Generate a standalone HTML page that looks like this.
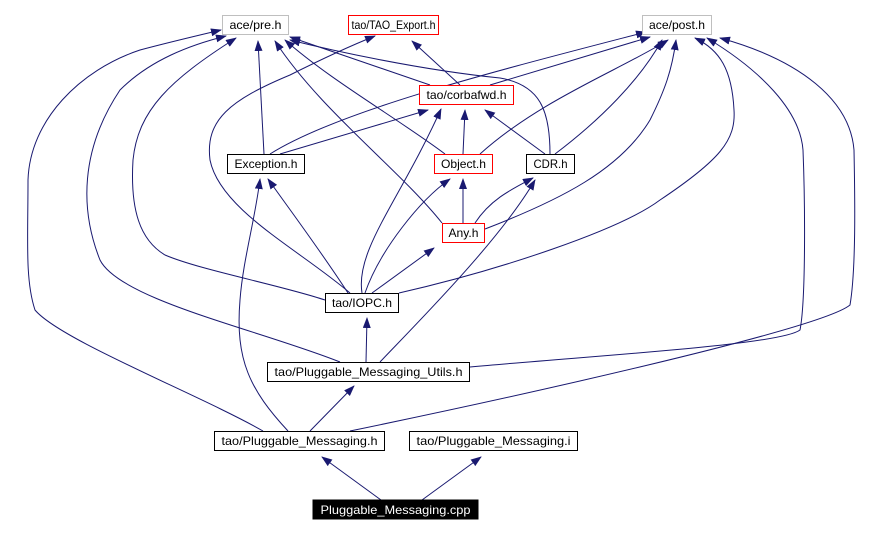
<!DOCTYPE html>
<html><head><meta charset="utf-8"><style>
html,body{margin:0;padding:0;background:#fff;}
svg{display:block;}
text{font-family:"Liberation Sans",Arial,sans-serif;font-size:12px;}
</style></head><body>
<svg width="881" height="534" viewBox="0 0 881 534" xmlns="http://www.w3.org/2000/svg">
<defs>
<marker id="a" markerWidth="11" markerHeight="8" refX="10" refY="4" orient="auto" markerUnits="userSpaceOnUse">
<path d="M0,0 L11,4 L0,8 z" fill="#191970"/></marker>
</defs>
<g fill="none" stroke="#191970" stroke-width="1" marker-end="url(#a)">
<path d="M381,500 L322,457"/>
<path d="M422,500 L481,457"/>
<path d="M310,431 L354,386"/>
<path d="M263,431 C200,395 60,340 35,310 C25,280 28,240 28,180 C30,120 80,70 140,50 C170,42 200,35 221,30"/>
<path d="M350,431 C500,400 820,330 850,305 C856,270 855,200 854,150 C850,100 800,60 720,38"/>
<path d="M288,431 C250,390 235,360 240,300 C243,260 255,220 260,179"/>
<path d="M366,362 L367,318"/>
<path d="M340,362 C260,330 120,300 100,260 C80,210 80,150 120,90 C150,60 190,45 226,36"/>
<path d="M470,367 C600,355 780,345 800,330 C806,300 805,200 803,150 C800,110 760,70 707,38"/>
<path d="M380,362 C420,320 500,240 535,180"/>
<path d="M325,300 C280,285 200,270 165,255 C140,240 130,210 133,160 C138,110 170,80 236,38"/>
<path d="M399,293 C500,270 620,230 660,200 C720,160 736,140 734,110 C732,70 720,50 695,38"/>
<path d="M350,293 C300,250 220,210 210,160 C205,120 230,100 290,75 C330,55 360,42 375,36"/>
<path d="M348,293 C320,250 290,210 268,179"/>
<path d="M365,293 C380,250 420,200 450,179"/>
<path d="M372,293 L434,248"/>
<path d="M362,293 C355,250 400,200 441,109"/>
<path d="M463,223 L463,179"/>
<path d="M475,223 C490,200 510,190 533,178"/>
<path d="M485,229 C560,200 620,170 650,120 C665,90 672,70 676,40"/>
<path d="M442,223 C400,170 320,110 275,41"/>
<path d="M463,154 L465,110"/>
<path d="M445,154 C400,120 330,80 285,40"/>
<path d="M480,154 C540,100 620,70 668,40"/>
<path d="M545,154 L485,110"/>
<path d="M550,154 C550,110 540,85 500,78 C420,70 330,50 290,40"/>
<path d="M555,154 C600,120 640,80 662,40"/>
<path d="M264,154 L258,41"/>
<path d="M280,154 L428,110"/>
<path d="M270,154 C340,110 500,70 646,32"/>
<path d="M460,85 L412,41"/>
<path d="M430,85 L290,37"/>
<path d="M490,85 L650,37"/>
</g>
<g stroke-width="1">
<rect x="222.5" y="15.5" width="66" height="19" fill="#fff" stroke="#bfbfbf"/>
<rect x="348.5" y="15.5" width="90" height="19" fill="#fff" stroke="#ff0000"/>
<rect x="642.5" y="15.5" width="69" height="19" fill="#fff" stroke="#bfbfbf"/>
<rect x="419.5" y="85.5" width="94" height="19" fill="#fff" stroke="#ff0000"/>
<rect x="227.5" y="154.5" width="77" height="19" fill="#fff" stroke="#000"/>
<rect x="434.5" y="154.5" width="58" height="19" fill="#fff" stroke="#ff0000"/>
<rect x="526.5" y="154.5" width="48" height="19" fill="#fff" stroke="#000"/>
<rect x="442.5" y="223.5" width="42" height="19" fill="#fff" stroke="#ff0000"/>
<rect x="325.5" y="293.5" width="73" height="19" fill="#fff" stroke="#000"/>
<rect x="267.5" y="362.5" width="202" height="19" fill="#fff" stroke="#000"/>
<rect x="214.5" y="431.5" width="170" height="19" fill="#fff" stroke="#000"/>
<rect x="409.5" y="431.5" width="168" height="19" fill="#fff" stroke="#000"/>
<rect x="313" y="500" width="165" height="19" fill="#000" stroke="#000"/>
</g>
<g text-anchor="middle" fill="#000">
<text x="255.5" y="29" textLength="52" lengthAdjust="spacingAndGlyphs">ace/pre.h</text>
<text x="393.5" y="29" textLength="84" lengthAdjust="spacingAndGlyphs">tao/TAO_Export.h</text>
<text x="677" y="29" textLength="56" lengthAdjust="spacingAndGlyphs">ace/post.h</text>
<text x="466.5" y="99" textLength="80" lengthAdjust="spacingAndGlyphs">tao/corbafwd.h</text>
<text x="266" y="168" textLength="63" lengthAdjust="spacingAndGlyphs">Exception.h</text>
<text x="463.5" y="168" textLength="45" lengthAdjust="spacingAndGlyphs">Object.h</text>
<text x="550.5" y="168" textLength="34" lengthAdjust="spacingAndGlyphs">CDR.h</text>
<text x="463.5" y="237" textLength="30" lengthAdjust="spacingAndGlyphs">Any.h</text>
<text x="362" y="307" textLength="60" lengthAdjust="spacingAndGlyphs">tao/IOPC.h</text>
<text x="368.5" y="376" textLength="188" lengthAdjust="spacingAndGlyphs">tao/Pluggable_Messaging_Utils.h</text>
<text x="299.5" y="445" textLength="156" lengthAdjust="spacingAndGlyphs">tao/Pluggable_Messaging.h</text>
<text x="493.5" y="445" textLength="154" lengthAdjust="spacingAndGlyphs">tao/Pluggable_Messaging.i</text>
<text x="395.5" y="514" fill="#fff" textLength="150" lengthAdjust="spacingAndGlyphs">Pluggable_Messaging.cpp</text>
</g>
</svg>
</body></html>
